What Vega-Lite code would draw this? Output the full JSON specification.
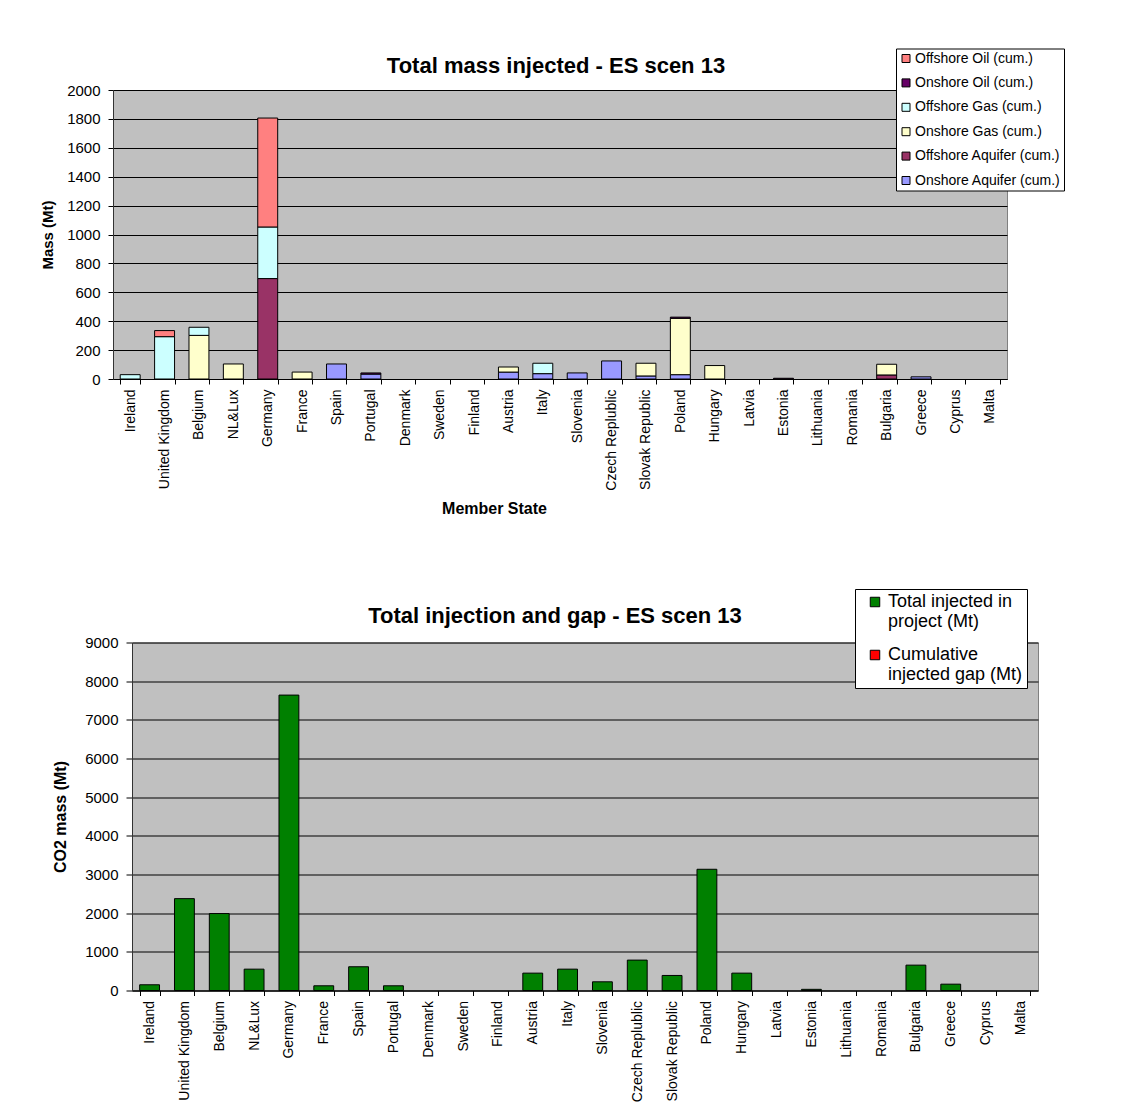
{
  "$schema": "https://vega.github.io/schema/vega-lite/v6.json",
  "background": "white",
  "padding": {"left": 40, "top": 47, "right": 0, "bottom": 0},
  "spacing": 71.5,
  "resolve": {"scale": {"color": "independent"}, "legend": {"color": "independent"}},
  "config": {
    "font": "Liberation Sans",
    "view": {"fill": "#C0C0C0", "stroke": "#808080", "strokeWidth": 1},
    "axis": {
      "labelFont": "Liberation Sans", "labelColor": "black",
      "titleFont": "Liberation Sans", "titleColor": "black", "titleFontWeight": "bold",
      "domainColor": "black", "tickColor": "black", "gridColor": "black", "gridOpacity": 1, "gridWidth": 1
    },
    "legend": {
      "labelFont": "Liberation Sans", "labelColor": "black",
      "strokeColor": "black", "fillColor": "white",
      "symbolType": "square", "symbolStrokeColor": "black", "symbolStrokeWidth": 1, "symbolOpacity": 1
    },
    "title": {"font": "Liberation Sans", "fontWeight": "bold", "color": "black", "fontSize": 22}
  },
  "datasets": {
    "mass": [
      {"country": "Ireland", "type": "Offshore Gas", "mass": 30},
      {"country": "United Kingdom", "type": "Offshore Gas", "mass": 293},
      {"country": "United Kingdom", "type": "Offshore Oil", "mass": 42},
      {"country": "Belgium", "type": "Onshore Gas", "mass": 302},
      {"country": "Belgium", "type": "Offshore Gas", "mass": 56},
      {"country": "NL&Lux", "type": "Onshore Gas", "mass": 104},
      {"country": "Germany", "type": "Offshore Aquifer", "mass": 695},
      {"country": "Germany", "type": "Offshore Gas", "mass": 357},
      {"country": "Germany", "type": "Offshore Oil", "mass": 754},
      {"country": "France", "type": "Onshore Gas", "mass": 48},
      {"country": "Spain", "type": "Onshore Aquifer", "mass": 104},
      {"country": "Portugal", "type": "Onshore Aquifer", "mass": 34},
      {"country": "Portugal", "type": "Onshore Oil", "mass": 8},
      {"country": "Austria", "type": "Onshore Aquifer", "mass": 48},
      {"country": "Austria", "type": "Onshore Gas", "mass": 35},
      {"country": "Italy", "type": "Onshore Aquifer", "mass": 37},
      {"country": "Italy", "type": "Offshore Gas", "mass": 72},
      {"country": "Slovenia", "type": "Onshore Aquifer", "mass": 42},
      {"country": "Czech Replublic", "type": "Onshore Aquifer", "mass": 125},
      {"country": "Slovak Republic", "type": "Onshore Aquifer", "mass": 21},
      {"country": "Slovak Republic", "type": "Onshore Gas", "mass": 88},
      {"country": "Poland", "type": "Onshore Aquifer", "mass": 30},
      {"country": "Poland", "type": "Onshore Gas", "mass": 390},
      {"country": "Poland", "type": "Onshore Oil", "mass": 8},
      {"country": "Hungary", "type": "Onshore Gas", "mass": 93},
      {"country": "Estonia", "type": "Onshore Oil", "mass": 5},
      {"country": "Bulgaria", "type": "Offshore Aquifer", "mass": 28},
      {"country": "Bulgaria", "type": "Onshore Gas", "mass": 74},
      {"country": "Greece", "type": "Onshore Aquifer", "mass": 15}
    ],
    "total": [
      {"country": "Ireland", "series": "Total injected in project (Mt)", "value": 148},
      {"country": "United Kingdom", "series": "Total injected in project (Mt)", "value": 2376},
      {"country": "Belgium", "series": "Total injected in project (Mt)", "value": 1990},
      {"country": "NL&Lux", "series": "Total injected in project (Mt)", "value": 552},
      {"country": "Germany", "series": "Total injected in project (Mt)", "value": 7640},
      {"country": "France", "series": "Total injected in project (Mt)", "value": 122},
      {"country": "Spain", "series": "Total injected in project (Mt)", "value": 614},
      {"country": "Portugal", "series": "Total injected in project (Mt)", "value": 122},
      {"country": "Austria", "series": "Total injected in project (Mt)", "value": 449},
      {"country": "Italy", "series": "Total injected in project (Mt)", "value": 552},
      {"country": "Slovenia", "series": "Total injected in project (Mt)", "value": 225},
      {"country": "Czech Replublic", "series": "Total injected in project (Mt)", "value": 786},
      {"country": "Slovak Republic", "series": "Total injected in project (Mt)", "value": 389},
      {"country": "Poland", "series": "Total injected in project (Mt)", "value": 3135},
      {"country": "Hungary", "series": "Total injected in project (Mt)", "value": 449},
      {"country": "Estonia", "series": "Total injected in project (Mt)", "value": 30},
      {"country": "Bulgaria", "series": "Total injected in project (Mt)", "value": 656},
      {"country": "Greece", "series": "Total injected in project (Mt)", "value": 164}
    ]
  },
  "vconcat": [
    {
      "width": 894,
      "height": 289,
      "title": {"text": "Total mass injected - ES scen 13", "offset": -29.5, "dx": -4},
      "data": {"name": "mass"},
      "transform": [
        {"calculate": "indexof(['Onshore Aquifer','Offshore Aquifer','Onshore Gas','Offshore Gas','Onshore Oil','Offshore Oil'], datum.type)", "as": "stackOrder"}
      ],
      "mark": {"type": "bar", "stroke": "black", "strokeWidth": 1},
      "encoding": {
        "x": {
          "field": "country", "type": "nominal",
          "scale": {
            "domain": ["Ireland", "United Kingdom", "Belgium", "NL&Lux", "Germany", "France", "Spain", "Portugal", "Denmark", "Sweden", "Finland", "Austria", "Italy", "Slovenia", "Czech Replublic", "Slovak Republic", "Poland", "Hungary", "Latvia", "Estonia", "Lithuania", "Romania", "Bulgaria", "Greece", "Cyprus", "Malta"],
            "paddingInner": 0.42, "paddingOuter": 0.21
          },
          "axis": {
            "title": "Member State", "titleFontSize": 16, "titlePadding": 10, "titleX": 381,
            "labelAngle": -90, "labelFontSize": 14, "labelPadding": 5,
            "tickSize": 5, "tickBand": "extent"
          }
        },
        "y": {
          "field": "mass", "type": "quantitative", "stack": "zero",
          "scale": {"domain": [0, 2000], "nice": false},
          "axis": {
            "title": "Mass (Mt)", "titleFontSize": 15, "titlePadding": 11, "format": "d",
            "values": [0, 200, 400, 600, 800, 1000, 1200, 1400, 1600, 1800, 2000],
            "labelFontSize": 15, "labelPadding": 8, "tickSize": 5, "grid": true, "domainColor": "#333333"
          }
        },
        "color": {
          "field": "type", "type": "nominal",
          "scale": {
            "domain": ["Offshore Oil", "Onshore Oil", "Offshore Gas", "Onshore Gas", "Offshore Aquifer", "Onshore Aquifer"],
            "range": ["#FF8080", "#660066", "#CCFFFF", "#FFFFCC", "#993366", "#9999FF"]
          },
          "legend": {
            "title": null, "orient": "none", "legendX": 783, "legendY": -41.5,
            "labelExpr": "datum.label + ' (cum.)'",
            "labelFontSize": 14, "symbolSize": 64, "rowPadding": 10.4, "padding": 3,
            "labelOffset": 2
          }
        },
        "order": {"field": "stackOrder", "type": "quantitative"}
      }
    },
    {
      "spacing": -64,
      "hconcat": [
        {
          "width": 1,
          "height": 1,
          "view": {"fill": "transparent", "stroke": "transparent"},
          "data": {"values": []},
          "mark": "point",
          "encoding": {}
        },
        {
          "width": 906,
          "height": 348,
          "title": {"text": "Total injection and gap - ES scen 13", "offset": 7.5, "dx": -30},
          "data": {"name": "total"},
          "mark": {"type": "bar", "stroke": "black", "strokeWidth": 1},
          "encoding": {
            "x": {
              "field": "country", "type": "nominal",
              "scale": {
                "domain": ["Ireland", "United Kingdom", "Belgium", "NL&Lux", "Germany", "France", "Spain", "Portugal", "Denmark", "Sweden", "Finland", "Austria", "Italy", "Slovenia", "Czech Replublic", "Slovak Republic", "Poland", "Hungary", "Latvia", "Estonia", "Lithuania", "Romania", "Bulgaria", "Greece", "Cyprus", "Malta"],
                "paddingInner": 0.43, "paddingOuter": 0.22
              },
              "axis": {
                "title": null,
                "labelAngle": -90, "labelFontSize": 14, "labelPadding": 5,
                "tickSize": 5, "tickBand": "extent"
              }
            },
            "y": {
              "field": "value", "type": "quantitative",
              "scale": {"domain": [0, 9000], "nice": false},
              "axis": {
                "title": "CO2 mass (Mt)", "titleFontSize": 16, "titlePadding": 16.5, "format": "d",
                "values": [0, 1000, 2000, 3000, 4000, 5000, 6000, 7000, 8000, 9000],
                "labelFontSize": 15, "labelPadding": 8, "tickSize": 6, "grid": true, "domainColor": "#333333"
              }
            },
            "color": {
              "field": "series", "type": "nominal",
              "scale": {
                "domain": ["Total injected in project (Mt)", "Cumulative injected gap (Mt)"],
                "range": ["#008000", "#FF0000"]
              },
              "legend": {
                "title": null, "orient": "none", "legendX": 742, "legendY": -53.5,
                "labelExpr": "datum.label == 'Total injected in project (Mt)' ? ['Total injected in', 'project (Mt)'] : ['Cumulative', 'injected gap (Mt)']",
                "labelFontSize": 18, "symbolSize": 90, "rowPadding": 15, "padding": 4,
                "symbolOffset": 7, "labelOffset": 4
              }
            }
          }
        }
      ]
    }
  ]
}
